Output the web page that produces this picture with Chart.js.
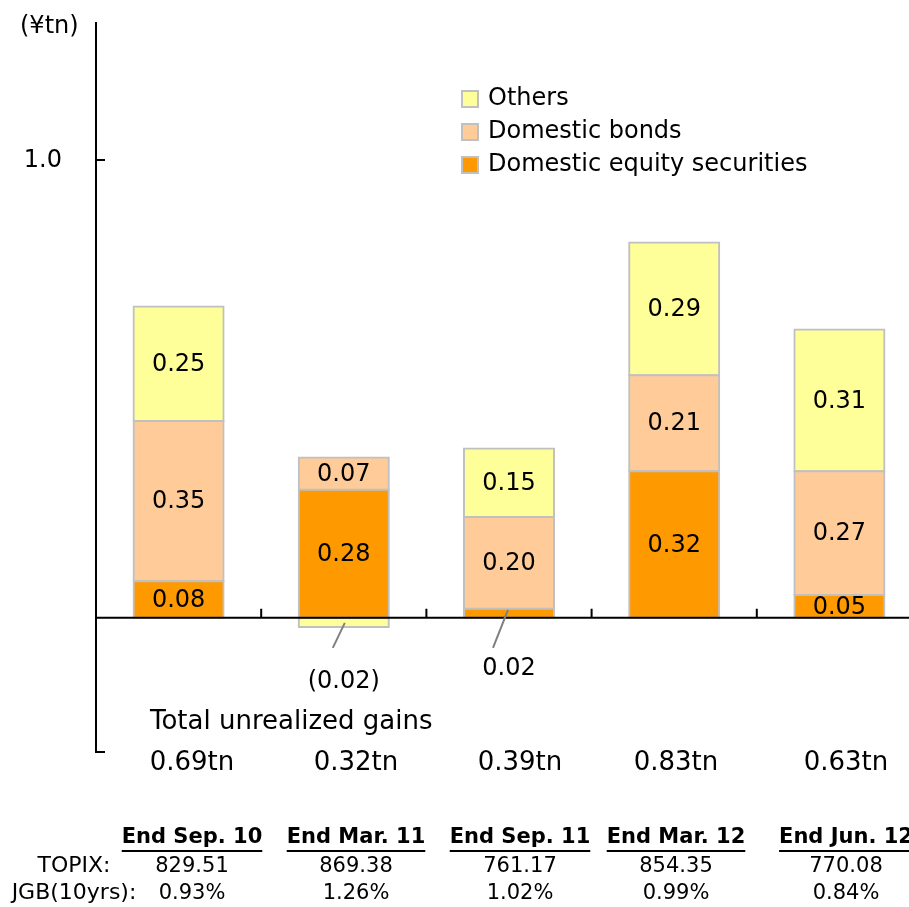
<!DOCTYPE html>
<html>
<head>
<meta charset="utf-8">
<script src="https://cdn.jsdelivr.net/npm/chart.js@4.4.1/dist/chart.umd.min.js"></script>
<style>
  html, body { margin: 0; padding: 0; background: #fff; overflow: hidden; }
  #wrap { position: relative; width: 940px; height: 907px; }
</style>
</head>
<body>
<div id="wrap"><canvas id="grafico" width="940" height="907"></canvas></div>
<script>
// Períodos e valores (¥tn)
const periodos = ['End Sep. 10', 'End Mar. 11', 'End Sep. 11', 'End Mar. 12', 'End Jun. 12'];
const acoes = [0.08, 0.28, 0.02, 0.32, 0.05];
const titulos = [0.35, 0.07, 0.20, 0.21, 0.27];
const outros = [0.25, -0.02, 0.15, 0.29, 0.31];
const totais = ['0.69tn', '0.32tn', '0.39tn', '0.83tn', '0.63tn'];
const topix = ['829.51', '869.38', '761.17', '854.35', '770.08'];
const jgb = ['0.93%', '1.26%', '1.02%', '0.99%', '0.84%'];

const FONTE = '"DejaVu Sans", Verdana, sans-serif';
const CINZA = '#c0c0c0';

// Colunas da tabela de baixo
const colX = [192, 356, 520, 676, 846];

// Rótulos que ficam fora da barra, com linha de chamada (chave: barra-dataset)
const chamadas = {
  '1-2': { de: [1, 5], ate: [-11, 30], txt: [0, 64] },
  '2-0': { de: [-1, -8], ate: [-16, 30], txt: [0, 51] }
};

function fmt(v) {
  return v < 0 ? '(' + Math.abs(v).toFixed(2) + ')' : v.toFixed(2);
}

const desenhos = {
  id: 'desenhos',
  afterDatasetsDraw(chart) {
    const ctx = chart.ctx;
    const x = chart.scales.x;
    const y = chart.scales.y;
    const area = chart.chartArea;
    const y0 = y.getPixelForValue(0);

    ctx.save();

    // Linha do zero e marcas entre categorias
    ctx.strokeStyle = '#000';
    ctx.lineWidth = 2;
    ctx.beginPath();
    ctx.moveTo(area.left, y0);
    ctx.lineTo(area.right, y0);
    for (let i = 1; i < periodos.length; i++) {
      const xb = (x.getPixelForValue(i - 1) + x.getPixelForValue(i)) / 2;
      ctx.moveTo(xb, y0);
      ctx.lineTo(xb, y0 - 9);
    }
    // Marcas do eixo Y (para dentro)
    [1, y.min].forEach(v => {
      const yy = y.getPixelForValue(v);
      ctx.moveTo(area.left, yy);
      ctx.lineTo(area.left + 9, yy);
    });
    ctx.stroke();

    ctx.fillStyle = '#000';
    ctx.font = '24px ' + FONTE;
    ctx.textBaseline = 'middle';

    // Rótulo do eixo Y
    ctx.textAlign = 'right';
    ctx.fillText('1.0', 62, y.getPixelForValue(1) + 1);

    // Valores dentro de cada segmento
    ctx.textAlign = 'center';
    chart.data.datasets.forEach((ds, d) => {
      const meta = chart.getDatasetMeta(d);
      meta.data.forEach((bar, i) => {
        const v = ds.data[i];
        const c = chamadas[i + '-' + d];
        if (c) {
          ctx.strokeStyle = '#808080';
          ctx.lineWidth = 2;
          ctx.beginPath();
          ctx.moveTo(bar.x + c.de[0], y0 + c.de[1]);
          ctx.lineTo(bar.x + c.ate[0], y0 + c.ate[1]);
          ctx.stroke();
          ctx.fillText(fmt(v), bar.x + c.txt[0], y0 + c.txt[1]);
        } else {
          ctx.fillText(fmt(v), bar.x, (bar.y + bar.base) / 2 + 1);
        }
      });
    });

    // Legenda (ordem inversa da pilha)
    [2, 1, 0].forEach((d, k) => {
      const ds = chart.data.datasets[d];
      const ly = 99 + k * 33;
      ctx.fillStyle = ds.backgroundColor;
      ctx.fillRect(462, ly - 8, 16, 16);
      ctx.strokeStyle = CINZA;
      ctx.lineWidth = 2;
      ctx.strokeRect(462, ly - 8, 16, 16);
      ctx.fillStyle = '#000';
      ctx.textAlign = 'left';
      ctx.fillText(ds.label, 488, ly);
    });

    // Unidade
    ctx.textAlign = 'left';
    ctx.fillText('(¥tn)', 20, 27);

    // Totais
    ctx.font = '26px ' + FONTE;
    ctx.fillText('Total unrealized gains', 150, 722);
    ctx.textAlign = 'center';
    totais.forEach((t, i) => ctx.fillText(t, colX[i], 763));

    // Tabela
    ctx.font = 'bold 21px ' + FONTE;
    periodos.forEach((p, i) => {
      ctx.fillText(p, colX[i], 838);
      const w = ctx.measureText(p).width;
      ctx.fillRect(colX[i] - w / 2, 850, w, 2);
    });
    ctx.font = '22px ' + FONTE;
    ctx.fillText('TOPIX:', 74, 866);
    ctx.fillText('JGB(10yrs):', 74, 893);
    ctx.font = '21px ' + FONTE;
    topix.forEach((t, i) => ctx.fillText(t, colX[i], 867));
    jgb.forEach((t, i) => ctx.fillText(t, colX[i], 894));

    ctx.restore();
  }
};

const ctxG = document.getElementById('grafico').getContext('2d');
new Chart(ctxG, {
  type: 'bar',
  data: {
    labels: periodos,
    datasets: [
      { label: 'Domestic equity securities', data: acoes, backgroundColor: '#ff9900' },
      { label: 'Domestic bonds', data: titulos, backgroundColor: '#ffcc99' },
      { label: 'Others', data: outros, backgroundColor: '#ffff99' }
    ].map(ds => ({ ...ds, borderColor: CINZA, borderWidth: 2, borderSkipped: false,
      inflateAmount: 1, barPercentage: 0.545, categoryPercentage: 1 }))
  },
  options: {
    responsive: false,
    animation: false,
    events: [],
    layout: { padding: { top: 22.6, right: 18, bottom: 155, left: 0 } },
    plugins: { legend: { display: false }, tooltip: { enabled: false } },
    scales: {
      x: { stacked: true, display: false },
      y: {
        stacked: true,
        min: -0.293,
        max: 1.3,
        afterFit: s => { s.width = 96; },
        grid: { display: false, drawTicks: false },
        border: { display: true, color: '#000', width: 2 },
        ticks: { display: false }
      }
    }
  },
  plugins: [desenhos]
});
</script>
</body>
</html>
